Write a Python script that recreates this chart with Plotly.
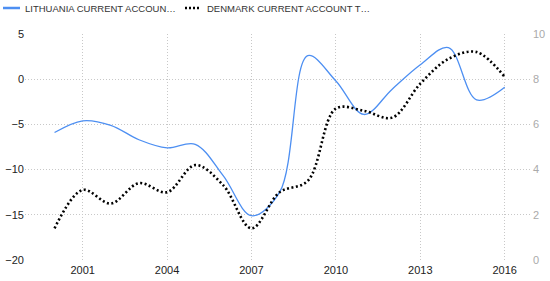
import plotly.graph_objects as go

years = list(range(2000, 2017))
lithuania = [-5.9, -4.6, -5.1, -6.7, -7.6, -7.2, -10.7, -15.1, -12.5, 2.6, -0.2, -3.9, -1.1, 1.6, 3.5, -2.3, -0.9]
denmark = [1.4, 3.1, 2.5, 3.4, 3.0, 4.2, 3.3, 1.4, 3.0, 3.5, 6.7, 6.6, 6.3, 7.8, 8.9, 9.2, 8.1]
lith_name = "LITHUANIA CURRENT ACCOUN\u2026"
den_name = "DENMARK CURRENT ACCOUNT T\u2026"
x_ticks = [2001, 2004, 2007, 2010, 2013, 2016]
left_ticks = [-20, -15, -10, -5, 0, 5]
right_ticks = [0, 2, 4, 6, 8, 10]

BLUE = "#4d8ff2"
W, H = 550, 281
L, R, T, B = 25, 18, 34, 21
pw, ph = W - L - R, H - T - B


def px(xpix):
    return (xpix - L) / pw


def py(ypix):
    return (H - B - ypix) / ph


fig = go.Figure()
fig.add_trace(go.Scatter(x=years, y=lithuania, name=lith_name, mode="lines",
                         line=dict(color=BLUE, width=1.3, shape="spline", smoothing=1)))
fig.add_trace(go.Scatter(x=years, y=denmark, name=den_name, mode="lines", yaxis="y2",
                         line=dict(color="#000000", width=2.6, shape="spline", smoothing=1, dash="2px,2.5px")))

grid = dict(showgrid=True, gridcolor="#c8c8c8", griddash="1px,2px", gridwidth=1, zeroline=False,
            showline=False, ticks="", automargin=False)
fig.update_layout(
    width=W, height=H,
    margin=dict(l=L, r=R, t=T, b=B, autoexpand=False),
    paper_bgcolor="white", plot_bgcolor="white",
    font=dict(family="Liberation Sans, Arial, sans-serif", size=11, color="#222222"),
    xaxis=dict(range=[1998.95, 2016.97], tickvals=x_ticks, ticktext=[str(v) for v in x_ticks],
               ticklabelstandoff=2, **grid),
    yaxis=dict(range=[-20, 5], tickvals=left_ticks, **grid),
    yaxis2=dict(range=[0, 10], tickvals=right_ticks, overlaying="y", side="right", showgrid=False,
                zeroline=False, showline=False, ticks="", automargin=False, tickfont=dict(color="#aaaaaa")),
    showlegend=False,
)

# manual legend (header row)
ly = py(8)
fig.add_shape(type="line", xref="paper", yref="paper", x0=px(3), x1=px(20), y0=ly, y1=ly,
              line=dict(color=BLUE, width=2.5))
fig.add_shape(type="line", xref="paper", yref="paper", x0=px(185), x1=px(200), y0=ly, y1=ly,
              line=dict(color="#000000", width=2.5, dash="2px,2px"))
for name, xp in [(lith_name, 23), (den_name, 205)]:
    fig.add_annotation(text=name, xref="paper", yref="paper", x=px(xp), y=ly, xanchor="left",
                       yanchor="middle", showarrow=False, font=dict(size=9.5, color="#333333"))

fig.write_html("out.html")
